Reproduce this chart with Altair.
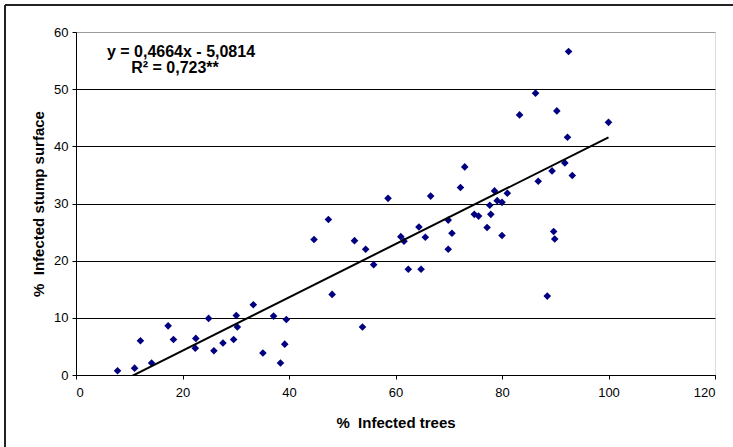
import altair as alt
import pandas as pd

# % infected trees vs % infected stump surface
infected_trees = [
    7.8, 11.0, 12.1, 14.2, 17.3, 18.3, 22.5, 22.4, 24.9, 25.9,
    27.6, 29.6, 30.1, 30.3, 33.3, 35.1, 37.1, 38.4, 39.5, 39.2,
    44.7, 47.4, 48.1, 52.3, 53.8, 54.4, 55.9, 58.6, 61.0, 61.6,
    62.4, 64.4, 64.8, 65.6, 66.6, 69.9, 69.9, 70.6, 72.2, 73.0,
    74.8, 75.6, 77.2, 77.7, 77.9, 78.6, 79.1, 80.0, 80.0, 81.0,
    92.5, 86.3, 83.3, 90.3, 100.0, 92.3, 91.8, 89.4, 93.2, 86.8,
    89.7, 89.9, 88.5,
]
infected_stump = [
    0.75, 1.2, 6.0, 2.1, 8.6, 6.2, 6.4, 4.7, 9.9, 4.25,
    5.6, 6.2, 10.4, 8.4, 12.3, 3.85, 10.3, 2.1, 9.7, 5.4,
    23.7, 27.2, 14.1, 23.5, 8.4, 22.0, 19.3, 30.9, 24.2, 23.4,
    18.5, 25.9, 18.5, 24.1, 31.3, 27.1, 22.0, 24.8, 32.8, 36.4,
    28.1, 27.8, 25.8, 29.7, 28.1, 32.2, 30.5, 30.2, 24.4, 31.8,
    56.6, 49.3, 45.5, 46.2, 44.2, 41.6, 37.1, 35.7, 34.9, 33.9,
    25.1, 23.8, 13.8,
]

# Linear trendline coefficients
slope = 0.4664
intercept = -5.0814
equation_text = "y = 0,4664x - 5,0814"
r2_text = "R\u00b2 = 0,723**"

x_ticks = [0, 20, 40, 60, 80, 100, 120]
y_ticks = [0, 10, 20, 30, 40, 50, 60]

W, H = 639, 343
FONT = "Liberation Sans"
NBSP = "\u00a0"

points = pd.DataFrame({"trees": infected_trees, "stump": infected_stump})
x_lo, x_hi = min(infected_trees), max(infected_trees)
trend = pd.DataFrame({
    "trees": [x_lo, x_hi],
    "stump": [slope * x_lo + intercept, slope * x_hi + intercept],
})

x_scale = alt.Scale(domain=[0, 120], nice=False, zero=False)
y_scale = alt.Scale(domain=[0, 60], nice=False)

x_axis = alt.Axis(
    values=x_ticks, title="%" + NBSP + " Infected trees", grid=False,
    domainColor="black", tickColor="black", tickSize=4,
    labelFont=FONT, labelFontSize=13, labelColor="black", labelPadding=7,
    titleFont=FONT, titleFontSize=15, titleFontWeight="bold", titleColor="black",
    titlePadding=16,
)
y_axis = alt.Axis(
    values=y_ticks, title="%" + NBSP + " Infected stump surface",
    grid=True,
    gridColor={"condition": {"test": "datum.value === 60", "value": "#9a9a9a"}, "value": "black"},
    gridWidth=1,
    domainColor="black", tickColor="black", tickSize=4,
    labelFont=FONT, labelFontSize=13, labelColor="black", labelPadding=4,
    titleFont=FONT, titleFontSize=15, titleFontWeight="bold", titleColor="black",
    titlePadding=7,
)

scatter = alt.Chart(points).mark_point(
    shape="diamond", filled=True, size=58, color="#000080", opacity=1
).encode(
    x=alt.X("trees:Q", scale=x_scale, axis=x_axis),
    y=alt.Y("stump:Q", scale=y_scale, axis=y_axis),
)

line = alt.Chart(trend).mark_line(color="black", strokeWidth=2, clip=True).encode(
    x=alt.X("trees:Q", scale=x_scale),
    y=alt.Y("stump:Q", scale=y_scale),
)

text_style = dict(font=FONT, fontSize=16, fontWeight="bold", color="black",
                  align="center", baseline="middle")
eq_label = alt.Chart(pd.DataFrame({"txt": [equation_text]})).mark_text(**text_style).encode(
    text="txt:N", x=alt.value(105), y=alt.value(20)
)
r2_label = alt.Chart(pd.DataFrame({"txt": [r2_text]})).mark_text(**text_style).encode(
    text="txt:N", x=alt.value(99), y=alt.value(36)
)

# frame around the chart area
frame_top = alt.Chart(points).mark_rule(color="#222222", strokeWidth=1, clip=False).encode(
    x=alt.value(-71), x2=alt.value(660), y=alt.value(-27)
)
frame_left = alt.Chart(points).mark_rule(color="#222222", strokeWidth=1, clip=False).encode(
    x=alt.value(-71), y=alt.value(-27), y2=alt.value(420)
)

chart = alt.layer(scatter, line, eq_label, r2_label, frame_top, frame_left).properties(
    width=W, height=H,
    autosize=alt.AutoSizeParams(type="none"),
    padding={"left": 76, "top": 32, "right": 18, "bottom": 72},
).configure_view(
    stroke="#9a9a9a", strokeWidth=1
).configure(background="white")

chart.save("out.html", embed_options={"renderer": "svg", "actions": False})
